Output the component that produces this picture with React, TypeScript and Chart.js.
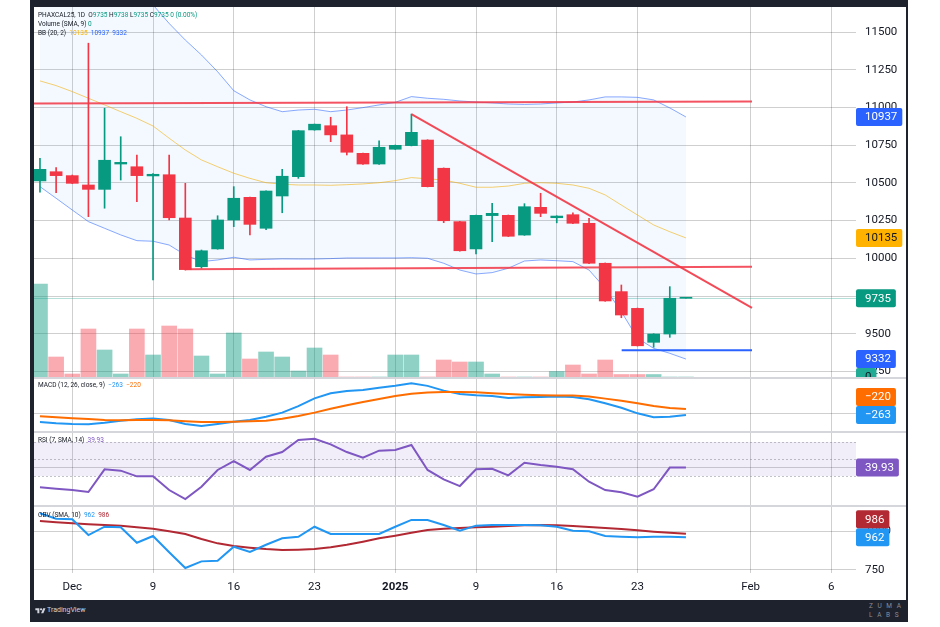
import React, { useEffect, useRef } from "react";
import { Chart, registerables } from "chart.js";
Chart.register(...registerables);

// ---------- data (daily bars, index 0..40) ----------
const opens = [10513, 10574, 10548, 10486, 10457, 10625, 10607, 10546, 10554, 10267, 9944, 10062, 10254, 10404, 10199, 10413, 10541, 10851, 10879, 10818, 10696, 10625, 10723, 10747, 10784, 10597, 10243, 10062, 10283, 10285, 10154, 10338, 10269, 10289, 10232, 9967, 9779, 9668, 9443, 9498, 9735];
const highs = [10663, 10601, 10552, 11426, 10995, 10806, 10685, 10562, 10685, 10497, 10055, 10282, 10475, 10406, 10448, 10590, 10848, 10890, 10935, 11005, 10698, 10778, 10751, 10956, 10786, 10599, 10245, 10287, 10365, 10287, 10362, 10431, 10282, 10302, 10265, 9969, 9823, 9670, 9500, 9812, 9738];
const lows = [10438, 10435, 10495, 10276, 10332, 10519, 10375, 9856, 10254, 9922, 9934, 10060, 10210, 10155, 10190, 10302, 10530, 10849, 10773, 10685, 10623, 10623, 10721, 10745, 10473, 10236, 10048, 10029, 10110, 10144, 10152, 10276, 10235, 10230, 9965, 9715, 9606, 9418, 9410, 9476, 9735];
const closes = [10590, 10548, 10497, 10457, 10650, 10636, 10548, 10557, 10269, 9925, 10050, 10254, 10398, 10225, 10446, 10544, 10846, 10889, 10818, 10703, 10625, 10736, 10749, 10835, 10475, 10249, 10050, 10285, 10298, 10146, 10342, 10298, 10280, 10232, 9967, 9717, 9624, 9420, 9498, 9735, 9735];
const volumes = [93, 20, 3, 48, 27, 3, 48, 22, 51, 48, 21, 3, 44, 18, 25, 20, 6, 29, 22, 0, 0, 0, 22, 22, 0, 17, 15, 15, 3, 0, 0, 0, 5.5, 12, 3, 17, 2.5, 2.5, 2.5, 0, 0];
const bbUpper = [11877, 11892, 11890, 11879, 11835, 11789, 11760, 11680, 11557, 11447, 11348, 11237, 11111, 11050, 11005, 10972, 10983, 10988, 10972, 10983, 10999, 11017, 11034, 11072, 11061, 11054, 11043, 11036, 11030, 11023, 11020, 11023, 11030, 11036, 11050, 11070, 11070, 11067, 11050, 10997, 10937];
const bbBasis = [11176, 11145, 11105, 11061, 11017, 10972, 10928, 10877, 10796, 10718, 10652, 10607, 10564, 10530, 10501, 10491, 10486, 10486, 10484, 10488, 10493, 10501, 10515, 10535, 10527, 10519, 10497, 10471, 10471, 10479, 10497, 10501, 10497, 10486, 10464, 10420, 10353, 10287, 10221, 10176, 10135];
const bbLower = [10475, 10398, 10320, 10243, 10199, 10155, 10117, 10113, 10088, 10022, 9978, 9989, 10007, 9989, 9993, 9996, 9995, 9995, 9998, 10002, 10002, 10002, 10002, 10004, 10000, 9967, 9922, 9896, 9905, 9934, 9982, 9989, 9984, 9978, 9922, 9801, 9646, 9470, 9403, 9370, 9332];
const macdLine = [-313, -322, -327, -329, -318, -304, -294, -287, -299, -327, -341, -327, -311, -299, -275, -246, -199, -144, -108, -91, -84, -68, -54, -37, -55, -89, -113, -122, -127, -141, -136, -134, -131, -134, -151, -179, -211, -251, -279, -275, -263];
const macdSignal = [-272, -279, -286, -291, -299, -301, -299, -299, -301, -308, -313, -313, -311, -308, -304, -289, -270, -246, -218, -194, -170, -149, -127, -111, -102, -99, -99, -101, -108, -113, -118, -122, -124, -124, -131, -146, -161, -179, -199, -213, -220];
const rsiValues = [16.7, 15.1, 13.5, 11.2, 37.9, 36.3, 29.6, 29.6, 13.5, 2.9, 17.4, 37.1, 47.6, 37.1, 52.7, 58.2, 72.4, 73.9, 67.3, 58.2, 51.5, 59.8, 60.6, 66.5, 37.1, 26.1, 18.2, 37.9, 38.6, 30.8, 45.6, 42.9, 40.9, 37.9, 23.3, 13.5, 10.8, 5.6, 14.4, 39.93, 39.93];
const obvValues = [1118, 1083, 1079, 977, 1031, 1027, 927, 971, 865, 763, 806, 810, 901, 867, 914, 956, 966, 1031, 984, 984, 984, 984, 1031, 1075, 1075, 1042, 1005, 1038, 1042, 1042, 1042, 1040, 1031, 1005, 1001, 971, 966, 962, 966, 966, 962];
const obvSma = [1068, 1060, 1053, 1047, 1042, 1038, 1027, 1018, 1001, 984, 951, 923, 906, 895, 886, 880, 882, 886, 897, 914, 934, 956, 973, 992, 1010, 1018, 1023, 1027, 1031, 1036, 1040, 1042, 1040, 1036, 1029, 1023, 1016, 1008, 999, 992, 986];

// ---------- ticks ----------
const timeTickIdx = [2, 7, 12, 17, 22, 27, 32, 37, 44, 49];
const timeTickLabels = ["Dec", "9", "16", "23", "2025", "9", "16", "23", "Feb", "6"];
const priceTicks = [9250, 9500, 9750, 10000, 10250, 10500, 10750, 11000, 11250, 11500];
const macdTicks = [-250];
const rsiTicks = [40];
const rsiLevels = [70, 50, 30];
const obvTicks = [750, 1000];

// ---------- drawings ----------
const resistanceLine = [{ x: -0.4, y: 11027 }, { x: 44.09, y: 11039 }];
const supportLine = [{ x: 8.98, y: 9927 }, { x: 44.09, y: 9944 }];
const trendLine = [{ x: 23, y: 10956 }, { x: 44.09, y: 9672 }];
const lowLine = [{ x: 36.02, y: 9390 }, { x: 44.09, y: 9390 }];

const X_MIN = -0.37;
const X_MAX = 50.53;
const FONT = "Roboto, 'Noto Sans', sans-serif";
const GRID = "rgba(0,0,0,0.19)";
const TXT = "#131722";
const UP = "#089981";
const DOWN = "#F23645";
const AXIS_W = 50;
const last = closes.length - 1;

const fmt = (v: number) => (v < 0 ? "\u2212" + Math.abs(v) : String(v));
const pts = (arr: number[]) => arr.map((v, i) => ({ x: i, y: v }));

const valueBoxes = {
  id: "valueBoxes",
  afterDraw(chart: any, _a: any, opts: any) {
    const H = 18;
    const items = (opts.items || []).map((it: any) => ({ ...it, y: chart.scales[it.axis].getPixelForValue(it.value) }));
    items.sort((a: any, b: any) => b.y - a.y);
    for (let i = 1; i < items.length; i++) {
      if (items[i].y > items[i - 1].y - H) items[i].y = items[i - 1].y - H;
    }
    const ctx = chart.ctx;
    const x0 = chart.chartArea.right;
    ctx.save();
    ctx.font = `11.5px ${FONT}`;
    ctx.textBaseline = "middle";
    items.forEach((it: any) => {
      const tw = ctx.measureText(it.text).width;
      ctx.fillStyle = it.bg;
      ctx.beginPath();
      ctx.roundRect(x0, it.y - H / 2, 9 + tw + 5, H, 2);
      ctx.fill();
      ctx.fillStyle = it.fg;
      ctx.fillText(it.text, x0 + 9, it.y + 0.5);
    });
    ctx.restore();
  },
};

const hlines = {
  id: "hlines",
  beforeDatasetsDraw(chart: any, _a: any, opts: any) {
    const { ctx, chartArea } = chart;
    ctx.save();
    (opts.bands || []).forEach((b: any) => {
      const s = chart.scales[b.axis];
      const y1 = s.getPixelForValue(b.from);
      const y2 = s.getPixelForValue(b.to);
      ctx.fillStyle = b.color;
      ctx.fillRect(chartArea.left, Math.min(y1, y2), chartArea.right - chartArea.left, Math.abs(y2 - y1));
    });
    (opts.lines || []).forEach((l: any) => {
      const y = Math.round(chart.scales[l.axis].getPixelForValue(l.value)) + 0.5;
      ctx.strokeStyle = l.color;
      ctx.lineWidth = l.width || 1;
      ctx.setLineDash(l.dash || []);
      ctx.beginPath();
      ctx.moveTo(chartArea.left, y);
      ctx.lineTo(chartArea.right, y);
      ctx.stroke();
    });
    ctx.restore();
  },
};

Chart.register(valueBoxes as any, hlines as any);

function xAxis(showLabels: boolean): any {
  return {
    type: "linear",
    min: X_MIN,
    max: X_MAX,
    offset: false,
    grid: { color: GRID, drawTicks: false, offset: false, lineWidth: 1 },
    border: { display: false },
    ticks: {
      display: showLabels,
      padding: 7,
      color: TXT,
      autoSkip: false,
      maxRotation: 0,
      font: (c: any) => ({ family: FONT, size: 11.5, weight: c.tick && c.tick.value === 22 ? "bold" : "normal" }),
      callback: (v: any) => {
        const k = timeTickIdx.indexOf(v);
        return k >= 0 ? timeTickLabels[k] : "";
      },
    },
    afterBuildTicks: (s: any) => {
      s.ticks = timeTickIdx.map((v) => ({ value: v }));
    },
    afterFit: (s: any) => {
      s.height = showLabels ? 27 : 0;
      s.paddingLeft = 0;
      s.paddingRight = 0;
    },
  };
}

function yAxis(min: number, max: number, ticks: number[]): any {
  return {
    type: "linear",
    position: "right",
    min,
    max,
    beginAtZero: false,
    grid: { color: GRID, drawTicks: false },
    border: { display: false },
    ticks: { padding: 9, color: TXT, autoSkip: false, font: { family: FONT, size: 11.5 }, callback: (v: any) => fmt(v) },
    afterBuildTicks: (s: any) => {
      s.ticks = ticks.map((v) => ({ value: v }));
    },
    afterFit: (s: any) => {
      s.width = AXIS_W;
      s.paddingTop = 0;
      s.paddingBottom = 0;
    },
  };
}

const baseOpts: any = {
  animation: false,
  responsive: false,
  maintainAspectRatio: false,
  events: [],
  layout: { padding: 0 },
};

const line = (data: any, color: string, width: number, extra: any = {}) => ({
  type: "line",
  data,
  borderColor: color,
  borderWidth: width,
  pointRadius: 0,
  tension: 0,
  fill: false,
  yAxisID: "y",
  ...extra,
});

function mainConfig(): any {
  const candleColors = closes.map((c, i) => (c >= opens[i] ? UP : DOWN));
  const volColors = closes.map((c, i) => (c >= opens[i] ? "rgba(8,153,129,0.45)" : "rgba(242,54,69,0.42)"));
  return {
    type: "bar",
    data: {
      datasets: [
        line(resistanceLine, "rgba(242,54,69,0.85)", 2, { order: 1 }),
        line(supportLine, "rgba(242,54,69,0.85)", 2, { order: 1 }),
        line(trendLine, "rgba(242,54,69,0.9)", 2, { order: 1 }),
        line(lowLine, "#2962FF", 2, { order: 1 }),
        {
          type: "bar",
          data: opens.map((o, i) => ({ x: i, y: [o, closes[i]] })),
          backgroundColor: candleColors,
          barThickness: 12,
          minBarLength: 1,
          grouped: false,
          order: 3,
          yAxisID: "y",
        },
        {
          type: "bar",
          data: lows.map((l, i) => ({ x: i, y: [l, highs[i]] })),
          backgroundColor: candleColors,
          barThickness: 1,
          grouped: false,
          order: 4,
          yAxisID: "y",
        },
        line(pts(bbUpper), "rgba(41,98,255,0.55)", 1, { order: 8, fill: "+2", backgroundColor: "rgba(33,150,243,0.055)" }),
        line(pts(bbBasis), "rgba(255,179,0,0.6)", 1, { order: 8 }),
        line(pts(bbLower), "rgba(41,98,255,0.55)", 1, { order: 8 }),
        {
          type: "bar",
          data: pts(volumes),
          backgroundColor: volColors,
          barThickness: 15,
          grouped: false,
          order: 10,
          yAxisID: "yv",
        },
      ],
    },
    options: {
      ...baseOpts,
      scales: {
        x: xAxis(false),
        y: yAxis(9213, 11666, priceTicks),
        yv: { type: "linear", display: false, position: "left", min: 0, max: 370, beginAtZero: true },
      },
      plugins: {
        legend: { display: false },
        tooltip: { enabled: false },
        hlines: { lines: [{ axis: "y", value: closes[last], color: "rgba(8,153,129,0.3)", width: 1 }] },
        valueBoxes: {
          items: [
            { axis: "y", value: bbUpper[last], text: fmt(bbUpper[last]), bg: "#2962FF", fg: "#fff" },
            { axis: "y", value: bbBasis[last], text: fmt(bbBasis[last]), bg: "#FFB300", fg: TXT },
            { axis: "y", value: closes[last], text: fmt(closes[last]), bg: UP, fg: "#fff" },
            { axis: "y", value: bbLower[last], text: fmt(bbLower[last]), bg: "#2962FF", fg: "#fff" },
            { axis: "yv", value: volumes[last], text: fmt(volumes[last]), bg: "#22AB94", fg: TXT },
          ],
        },
      },
    },
  };
}

function macdConfig(): any {
  return {
    type: "line",
    data: {
      datasets: [line(pts(macdSignal), "#FF6D00", 2), line(pts(macdLine), "#2196F3", 2)],
    },
    options: {
      ...baseOpts,
      scales: { x: xAxis(false), y: yAxis(-377, -6, macdTicks) },
      plugins: {
        legend: { display: false },
        tooltip: { enabled: false },
        valueBoxes: {
          items: [
            { axis: "y", value: macdLine[last], text: fmt(macdLine[last]), bg: "#2196F3", fg: "#fff" },
            { axis: "y", value: macdSignal[last], text: fmt(macdSignal[last]), bg: "#FF6D00", fg: "#fff" },
          ],
        },
      },
    },
  };
}

function rsiConfig(): any {
  return {
    type: "line",
    data: { datasets: [line(pts(rsiValues), "#7E57C2", 2)] },
    options: {
      ...baseOpts,
      scales: { x: xAxis(false), y: yAxis(-4.1, 81.8, rsiTicks) },
      plugins: {
        legend: { display: false },
        tooltip: { enabled: false },
        hlines: {
          bands: [{ axis: "y", from: rsiLevels[0], to: rsiLevels[2], color: "rgba(126,87,194,0.1)" }],
          lines: rsiLevels.map((v) => ({ axis: "y", value: v, color: "rgba(120,123,134,0.45)", dash: [2, 2] })),
        },
        valueBoxes: {
          items: [{ axis: "y", value: rsiValues[last], text: String(rsiValues[last]), bg: "#7E57C2", fg: "#fff" }],
        },
      },
    },
  };
}

function obvConfig(): any {
  return {
    type: "line",
    data: { datasets: [line(pts(obvValues), "#2196F3", 2), line(pts(obvSma), "#B22833", 2)] },
    options: {
      ...baseOpts,
      scales: { x: xAxis(true), y: yAxis(730.5, 1159, obvTicks) },
      plugins: {
        legend: { display: false },
        tooltip: { enabled: false },
        valueBoxes: {
          items: [
            { axis: "y", value: obvValues[last], text: fmt(obvValues[last]), bg: "#2196F3", fg: "#fff" },
            { axis: "y", value: obvSma[last], text: fmt(obvSma[last]), bg: "#B22833", fg: "#fff" },
          ],
        },
      },
    },
  };
}

const abs = (l: number, t: number, w: number, h: number, extra: any = {}): any => ({
  position: "absolute",
  left: l,
  top: t,
  width: w,
  height: h,
  ...extra,
});

const legendStyle = (top: number): any => ({
  position: "absolute",
  left: 38,
  top,
  fontFamily: FONT,
  fontSize: 6.5,
  lineHeight: "8px",
  color: TXT,
  whiteSpace: "nowrap",
  zIndex: 5,
});

export default function App() {
  const mainRef = useRef<HTMLCanvasElement>(null);
  const macdRef = useRef<HTMLCanvasElement>(null);
  const rsiRef = useRef<HTMLCanvasElement>(null);
  const obvRef = useRef<HTMLCanvasElement>(null);

  useEffect(() => {
    Chart.defaults.font.family = FONT;
    const charts: Chart[] = [
      new Chart(mainRef.current as HTMLCanvasElement, mainConfig()),
      new Chart(macdRef.current as HTMLCanvasElement, macdConfig()),
      new Chart(rsiRef.current as HTMLCanvasElement, rsiConfig()),
      new Chart(obvRef.current as HTMLCanvasElement, obvConfig()),
    ];
    return () => charts.forEach((c) => c.destroy());
  }, []);

  const chg = closes[last] - closes[last - 1];
  const pct = ((chg / closes[last - 1]) * 100).toFixed(2);
  const teal = { color: UP };
  const W = 872;

  return (
    <div style={abs(0, 0, 940, 627, { background: "#fff", overflow: "hidden" })}>
      <div style={abs(30, 0, 878, 622, { background: "#1e222d" })} />
      <div style={abs(34, 7, W, 593, { background: "#fff" })} />

      <canvas ref={mainRef} width={W} height={370} style={abs(34, 7, W, 370)} />
      <canvas ref={macdRef} width={W} height={52} style={abs(34, 379, W, 52)} />
      <canvas ref={rsiRef} width={W} height={73} style={abs(34, 432, W, 73)} />
      <canvas ref={obvRef} width={W} height={93} style={abs(34, 507, W, 93)} />

      <div style={abs(34, 377, W, 2, { background: "#d4d6dc", zIndex: 4 })} />
      <div style={abs(34, 431, W, 1.5, { background: "#d4d6dc", zIndex: 4 })} />
      <div style={abs(34, 505, W, 2, { background: "#d4d6dc", zIndex: 4 })} />

      <div style={legendStyle(10.7)}>
        PHAXCAL25, 1D&nbsp;&nbsp;O<span style={teal}>{opens[last]}</span>&nbsp;H<span style={teal}>{highs[last]}</span>&nbsp;L
        <span style={teal}>{lows[last]}</span>&nbsp;C<span style={teal}>{closes[last]}</span>&nbsp;
        <span style={teal}>
          {chg} ({pct}%)
        </span>
      </div>
      <div style={legendStyle(20)}>
        Volume (SMA, 9)&nbsp;<span style={teal}>{volumes[last]}</span>
      </div>
      <div style={legendStyle(29.3)}>
        BB (20, 2)&nbsp;&nbsp;<span style={{ color: "#FFB300" }}>{bbBasis[last]}</span>&nbsp;&nbsp;
        <span style={{ color: "#2962FF" }}>{bbUpper[last]}</span>&nbsp;&nbsp;<span style={{ color: "#2962FF" }}>{bbLower[last]}</span>
      </div>
      <div style={legendStyle(381)}>
        MACD (12, 26, close, 9)&nbsp;&nbsp;<span style={{ color: "#2196F3" }}>{fmt(macdLine[last])}</span>&nbsp;&nbsp;
        <span style={{ color: "#FF6D00" }}>{fmt(macdSignal[last])}</span>
      </div>
      <div style={legendStyle(436)}>
        RSI (7, SMA, 14)&nbsp;&nbsp;<span style={{ color: "#7E57C2" }}>{rsiValues[last]}</span>
      </div>
      <div style={legendStyle(510.7)}>
        OBV (SMA, 10)&nbsp;&nbsp;<span style={{ color: "#2196F3" }}>{obvValues[last]}</span>&nbsp;&nbsp;
        <span style={{ color: "#B22833" }}>{obvSma[last]}</span>
      </div>

      <svg style={abs(35, 607, 11, 8)} viewBox="0 0 36 28">
        <path d="M14 22H7V11H0V4h14v18zM28 22h-8l7.5-18h8L28 22z" fill="#d1d4dc" />
        <circle cx="20" cy="8" r="4" fill="#d1d4dc" />
      </svg>
      <div style={{ position: "absolute", left: 47, top: 606, fontFamily: FONT, fontSize: 7, lineHeight: "9px", color: "#d1d4dc", whiteSpace: "nowrap" }}>
        TradingView
      </div>
      <div style={{ position: "absolute", left: 869, top: 602, fontFamily: FONT, fontSize: 6.5, lineHeight: "8.5px", color: "#8a8e99", letterSpacing: "4.6px", whiteSpace: "nowrap" }}>
        <div>ZUMA</div>
        <div>LABS</div>
      </div>
    </div>
  );
}
